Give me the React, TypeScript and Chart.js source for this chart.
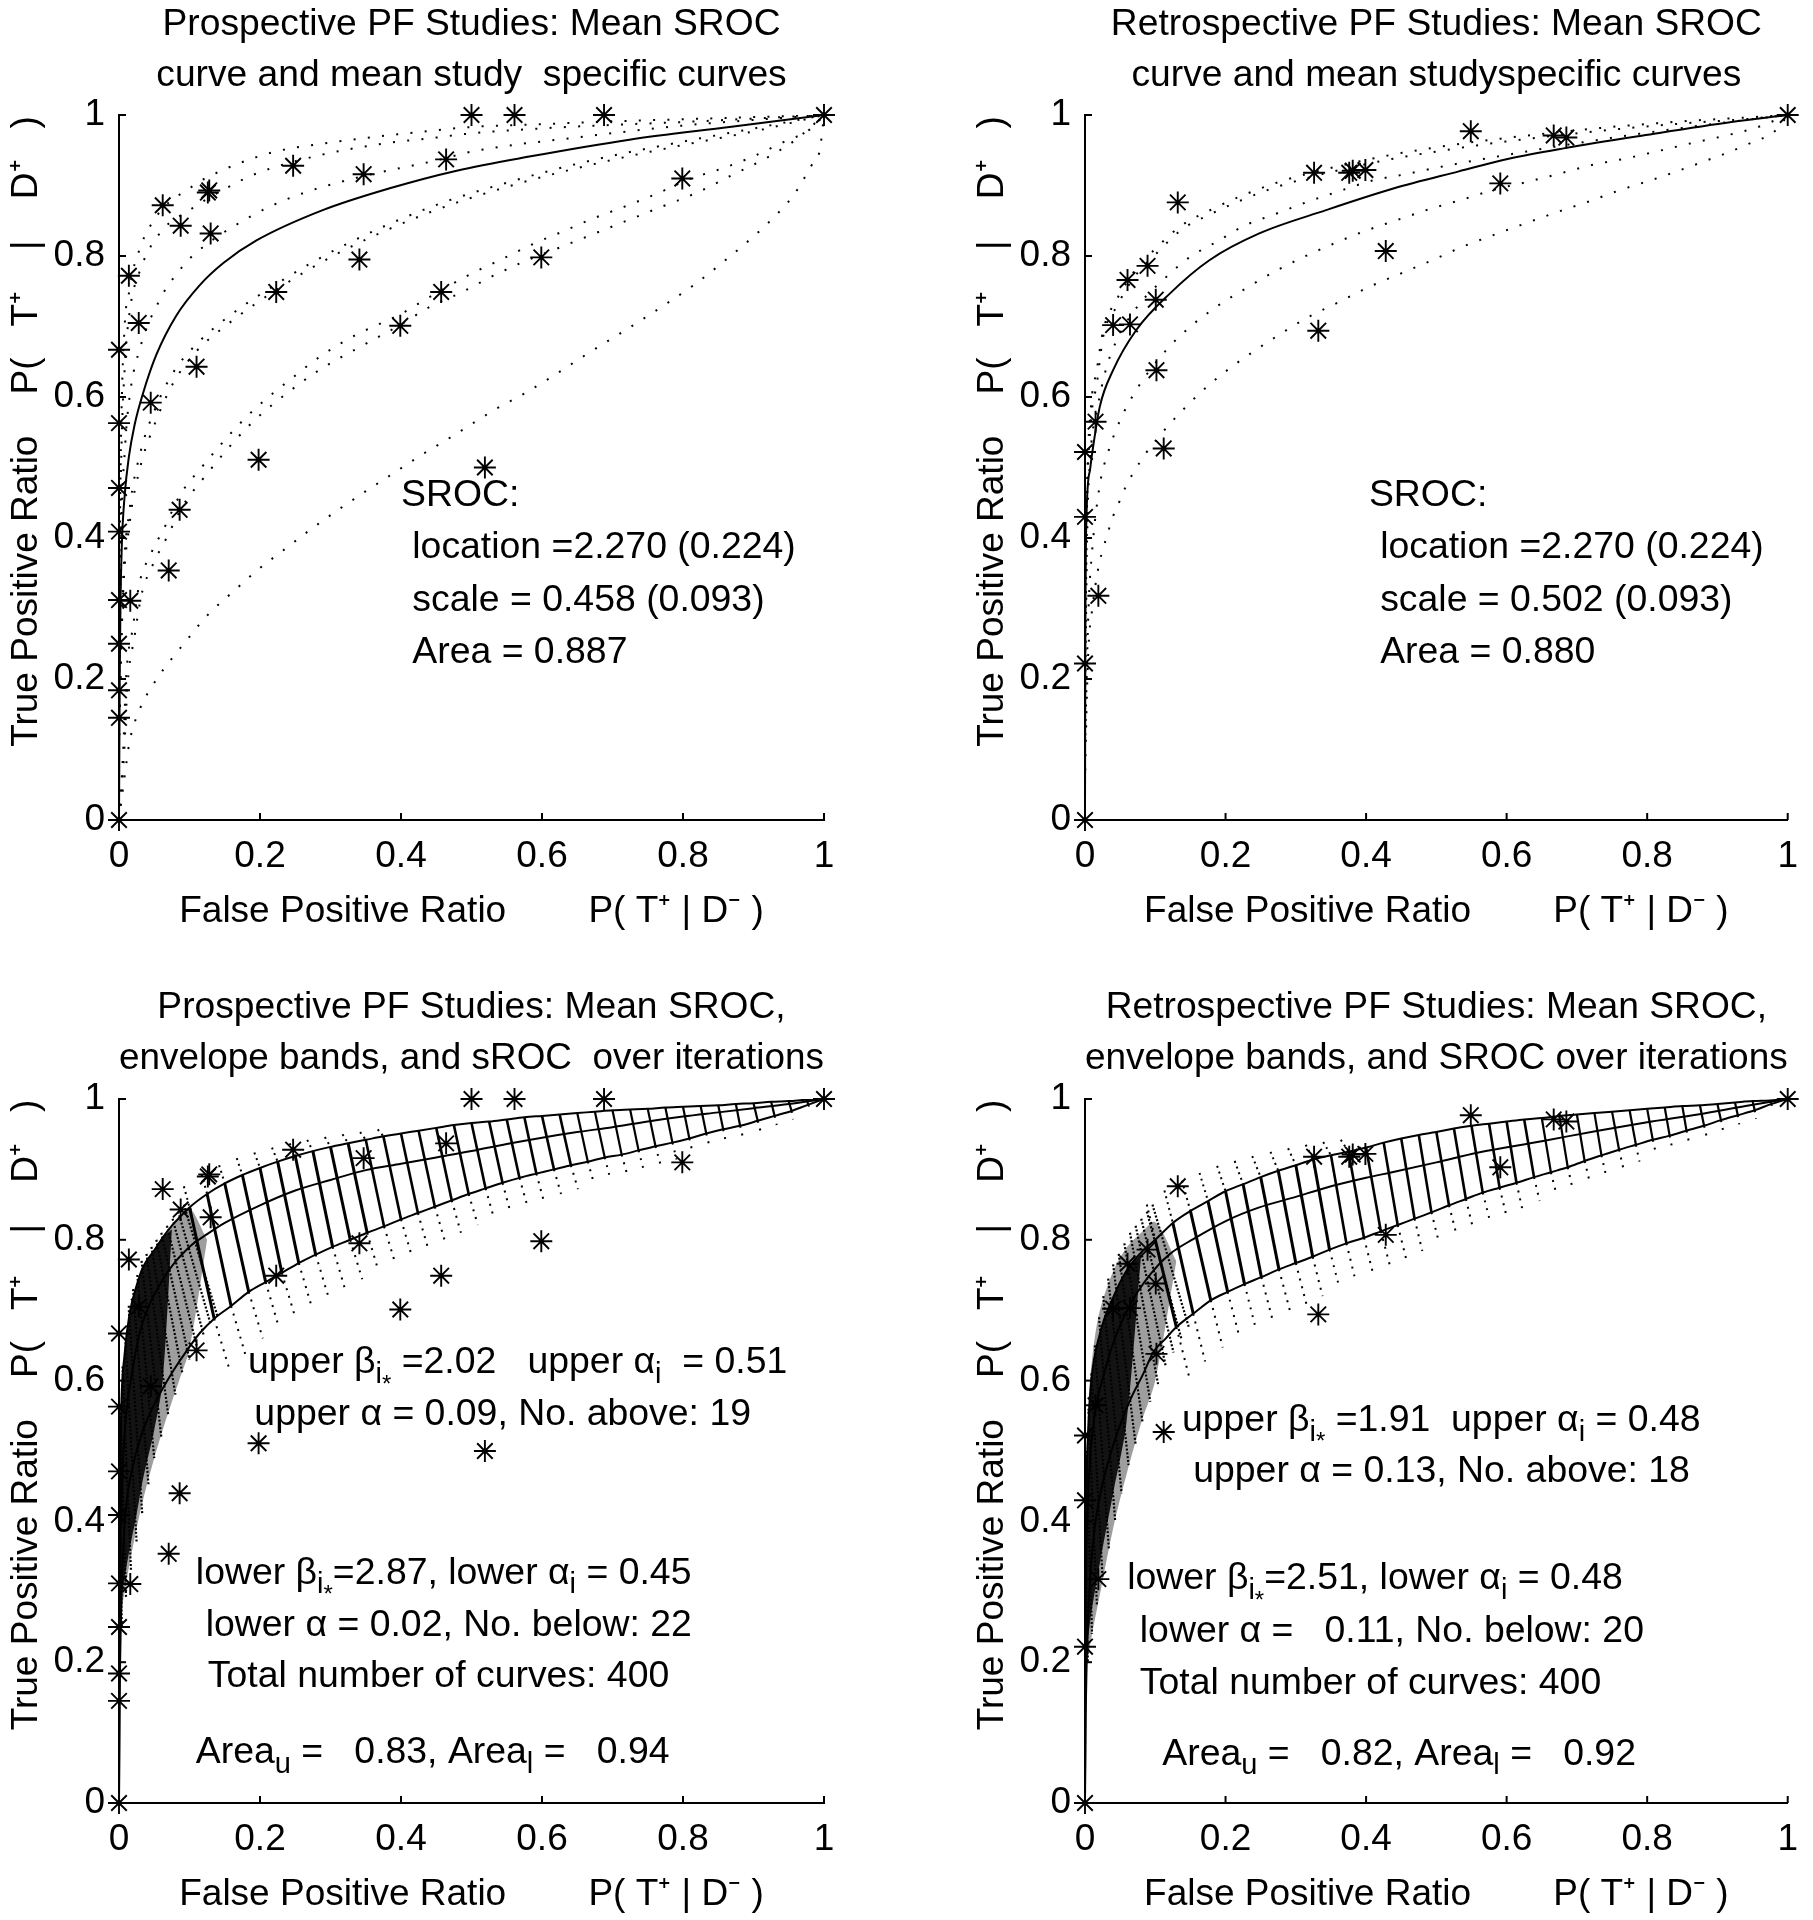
import React, { useEffect, useRef } from 'react';
import { Chart, registerables } from 'chart.js';

Chart.register(...registerables);

type Pt = [number, number];

const FONT = '"Liberation Sans", Arial, Helvetica, sans-serif';

// ---------------- data ----------------
const tickValues = [0, 0.2, 0.4, 0.6, 0.8, 1];

const prospectiveStudies: Pt[] = [
  [0, 0], [0, 0.145], [0, 0.184], [0, 0.25], [0, 0.312], [0.016, 0.311], [0, 0.409], [0, 0.471], [0, 0.563], [0, 0.667],
  [0.014, 0.772], [0.028, 0.705], [0.045, 0.592], [0.0705, 0.354], [0.086, 0.44], [0.11, 0.643], [0.198, 0.511],
  [0.062, 0.872], [0.0875, 0.843], [0.126, 0.89], [0.128, 0.893], [0.13, 0.832], [0.223, 0.749], [0.247, 0.928],
  [0.341, 0.795], [0.347, 0.916], [0.399, 0.701], [0.457, 0.749], [0.464, 0.937], [0.5, 1], [0.519, 0.5],
  [0.561, 1], [0.599, 0.798], [0.688, 1], [0.799, 0.91], [1, 1],
];

const retrospectiveStudies: Pt[] = [
  [0, 0], [0, 0.222], [0.019, 0.318], [0, 0.43], [0, 0.522], [0.015, 0.565], [0.04, 0.702], [0.064, 0.703],
  [0.0605, 0.766], [0.089, 0.786], [0.1007, 0.738], [0.1017, 0.638], [0.112, 0.527], [0.132, 0.876], [0.326, 0.918],
  [0.332, 0.694], [0.376, 0.918], [0.381, 0.921], [0.399, 0.922], [0.428, 0.807], [0.549, 0.977], [0.591, 0.903],
  [0.667, 0.971], [0.685, 0.968], [1, 1],
];

// Prospective: mean SROC and mean study-specific curves
const proMeanSroc: Pt[] = [
  [0, 0], [0.001, 0.2], [0.002, 0.3], [0.004, 0.39], [0.008, 0.46], [0.014, 0.515], [0.022, 0.56], [0.034, 0.605],
  [0.053, 0.66], [0.081, 0.715], [0.114, 0.758], [0.148, 0.79], [0.195, 0.822], [0.289, 0.865], [0.384, 0.896],
  [0.479, 0.921], [0.582, 0.941], [0.724, 0.965], [0.866, 0.983], [1, 1],
];
const proStudyU1: Pt[] = [
  [0, 0.3], [0.003, 0.55], [0.008, 0.7], [0.015, 0.752], [0.02, 0.78], [0.029, 0.809], [0.036, 0.827], [0.06, 0.865],
  [0.103, 0.898], [0.124, 0.911], [0.214, 0.946], [0.308, 0.962], [0.427, 0.976], [0.5, 0.983], [0.6, 0.987],
  [0.7, 0.991], [0.8, 0.994], [0.9, 0.997], [1, 1],
];
const proStudyU2: Pt[] = [
  [0, 0.25], [0.003, 0.5], [0.008, 0.64], [0.015, 0.72], [0.03, 0.78], [0.06, 0.835], [0.1, 0.865], [0.148, 0.894],
  [0.195, 0.917], [0.285, 0.943], [0.379, 0.96], [0.45, 0.968], [0.5, 0.974], [0.6, 0.981], [0.7, 0.986], [0.8, 0.99],
  [0.9, 0.995], [1, 1],
];
const proStudyU3: Pt[] = [
  [0, 0.15], [0.003, 0.4], [0.008, 0.52], [0.015, 0.6], [0.03, 0.67], [0.06, 0.742], [0.086, 0.78], [0.103, 0.799],
  [0.181, 0.853], [0.247, 0.884], [0.337, 0.911], [0.452, 0.936], [0.5, 0.948], [0.665, 0.97], [0.8, 0.985],
  [0.9, 0.993], [1, 1],
];
const proStudyM1: Pt[] = [
  [0, 0.1], [0.005, 0.3], [0.015, 0.42], [0.03, 0.5], [0.05, 0.56], [0.077, 0.62], [0.11, 0.665], [0.15, 0.7],
  [0.223, 0.752], [0.313, 0.805], [0.441, 0.862], [0.557, 0.9], [0.672, 0.93], [0.788, 0.955], [0.906, 0.978], [1, 1],
];
const proStudyM2: Pt[] = [
  [0, 0.12], [0.005, 0.32], [0.015, 0.44], [0.03, 0.52], [0.05, 0.58], [0.077, 0.635], [0.11, 0.675], [0.15, 0.71],
  [0.223, 0.76], [0.313, 0.812], [0.441, 0.869], [0.557, 0.906], [0.672, 0.936], [0.788, 0.96], [0.906, 0.982], [1, 1],
];
const proStudyL1a: Pt[] = [
  [0, 0], [0.006, 0.1], [0.01, 0.2], [0.02, 0.275], [0.029, 0.336], [0.044, 0.375], [0.067, 0.42], [0.086, 0.46],
  [0.117, 0.5], [0.181, 0.572], [0.252, 0.632], [0.289, 0.66], [0.332, 0.686], [0.4, 0.718], [0.441, 0.742],
  [0.5, 0.775], [0.542, 0.795], [0.585, 0.816], [0.63, 0.835], [0.672, 0.853], [0.717, 0.87], [0.762, 0.888],
  [0.809, 0.909], [0.855, 0.924], [0.897, 0.94], [0.939, 0.96], [0.982, 0.981], [1, 1],
];
const proStudyL1b: Pt[] = [
  [0, 0], [0.007, 0.09], [0.012, 0.19], [0.022, 0.26], [0.032, 0.32], [0.047, 0.36], [0.07, 0.405], [0.09, 0.445],
  [0.12, 0.485], [0.185, 0.56], [0.255, 0.618], [0.295, 0.645], [0.34, 0.67], [0.4, 0.703], [0.441, 0.728],
  [0.485, 0.748], [0.529, 0.771], [0.572, 0.791], [0.62, 0.81], [0.67, 0.83], [0.72, 0.85], [0.77, 0.87],
  [0.82, 0.89], [0.87, 0.915], [0.92, 0.94], [0.96, 0.965], [1, 1],
];
const proStudyL2: Pt[] = [
  [0, 0], [0.008, 0.062], [0.015, 0.111], [0.029, 0.156], [0.051, 0.196], [0.096, 0.255], [0.126, 0.291],
  [0.162, 0.324], [0.197, 0.355], [0.235, 0.384], [0.273, 0.413], [0.311, 0.44], [0.351, 0.467], [0.391, 0.493],
  [0.431, 0.519], [0.474, 0.545], [0.533, 0.582], [0.575, 0.605], [0.616, 0.63], [0.656, 0.656], [0.696, 0.681],
  [0.736, 0.706], [0.776, 0.732], [0.817, 0.76], [0.854, 0.789], [0.89, 0.819], [0.925, 0.851], [0.958, 0.888],
  [0.982, 0.928], [0.994, 0.95], [1, 1],
];

// Retrospective: mean SROC and mean study-specific curves
const retroMeanSroc: Pt[] = [
  [0, 0], [0.0005, 0.25], [0.002, 0.426], [0.007, 0.496], [0.0095, 0.515], [0.021, 0.586], [0.04, 0.638],
  [0.073, 0.695], [0.121, 0.747], [0.177, 0.794], [0.248, 0.832], [0.343, 0.865], [0.44, 0.896], [0.532, 0.92],
  [0.603, 0.938], [0.683, 0.953], [0.801, 0.972], [0.92, 0.99], [1, 1],
];
const retroStudyU1: Pt[] = [
  [0, 0.2], [0.003, 0.45], [0.008, 0.56], [0.017, 0.62], [0.026, 0.686], [0.045, 0.728], [0.07, 0.77], [0.102, 0.804],
  [0.137, 0.837], [0.18, 0.86], [0.222, 0.879], [0.267, 0.896], [0.314, 0.91], [0.428, 0.936], [0.499, 0.948],
  [0.596, 0.962], [0.738, 0.978], [0.85, 0.988], [0.95, 0.995], [1, 1],
];
const retroStudyU1b: Pt[] = [
  [0, 0.22], [0.003, 0.47], [0.008, 0.58], [0.017, 0.64], [0.026, 0.695], [0.045, 0.738], [0.07, 0.778],
  [0.102, 0.812], [0.137, 0.843], [0.18, 0.866], [0.222, 0.885], [0.267, 0.902], [0.314, 0.916], [0.428, 0.942],
  [0.499, 0.954], [0.596, 0.967], [0.738, 0.982], [0.85, 0.991], [0.95, 0.997], [1, 1],
];
const retroStudyU2: Pt[] = [
  [0, 0.15], [0.003, 0.4], [0.008, 0.52], [0.017, 0.58], [0.03, 0.64], [0.05, 0.69], [0.08, 0.735], [0.111, 0.766],
  [0.147, 0.797], [0.187, 0.82], [0.227, 0.843], [0.272, 0.86], [0.317, 0.877], [0.362, 0.892], [0.409, 0.907],
  [0.456, 0.916], [0.504, 0.926], [0.598, 0.943], [0.7, 0.96], [0.8, 0.975], [0.9, 0.988], [1, 1],
];
const retroStudyL1: Pt[] = [
  [0, 0.1], [0.005, 0.3], [0.01, 0.38], [0.021, 0.475], [0.033, 0.522], [0.05, 0.567], [0.073, 0.61], [0.116, 0.667],
  [0.149, 0.699], [0.187, 0.728], [0.227, 0.753], [0.27, 0.778], [0.312, 0.799], [0.355, 0.818], [0.4, 0.836],
  [0.447, 0.852], [0.492, 0.867], [0.537, 0.88], [0.582, 0.894], [0.629, 0.905], [0.676, 0.917], [0.721, 0.929],
  [0.768, 0.938], [0.816, 0.949], [0.863, 0.96], [0.908, 0.97], [0.955, 0.982], [1, 1],
];
const retroStudyL2: Pt[] = [
  [0, 0.05], [0.002, 0.15], [0.005, 0.246], [0.0095, 0.293], [0.02, 0.363], [0.026, 0.385], [0.033, 0.409],
  [0.04, 0.431], [0.05, 0.454], [0.059, 0.475], [0.071, 0.496], [0.085, 0.518], [0.113, 0.553], [0.13, 0.572],
  [0.163, 0.605], [0.201, 0.637], [0.239, 0.664], [0.279, 0.69], [0.319, 0.714], [0.362, 0.735], [0.404, 0.756],
  [0.449, 0.775], [0.494, 0.794], [0.537, 0.813], [0.582, 0.83], [0.626, 0.846], [0.671, 0.862], [0.716, 0.877],
  [0.76, 0.893], [0.807, 0.908], [0.875, 0.932], [0.942, 0.958], [0.986, 0.981], [1, 1],
];

// Prospective: envelope bands over iterations
const proUpperEnvLeft: Pt[] = [
  [0, 0], [0.0005, 0.3], [0.0015, 0.45], [0.003, 0.553], [0.008, 0.638], [0.015, 0.695], [0.025, 0.735],
  [0.034, 0.761], [0.05, 0.785], [0.062, 0.803], [0.075, 0.82], [0.087, 0.833],
];
const proLowerEnvLeft: Pt[] = [
  [0, 0], [0.001, 0.15], [0.003, 0.27], [0.006, 0.36], [0.01, 0.42], [0.02, 0.48], [0.034, 0.529], [0.053, 0.572],
  [0.077, 0.614], [0.1, 0.648], [0.115, 0.668],
];
const proMidIter: Pt[] = [
  [0, 0], [0.0005, 0.2], [0.002, 0.36], [0.005, 0.47], [0.01, 0.55], [0.02, 0.62], [0.03, 0.67], [0.06, 0.74],
  [0.1, 0.79], [0.125, 0.808], [0.15, 0.824], [0.2, 0.849], [0.25, 0.87], [0.3, 0.885], [0.35, 0.899], [0.4, 0.908],
  [0.45, 0.917], [0.5, 0.926], [0.55, 0.936], [0.6, 0.945], [0.65, 0.953], [0.7, 0.96], [0.75, 0.968], [0.8, 0.975],
  [0.85, 0.981], [0.9, 0.987], [0.95, 0.993], [1, 1],
];
const proBandUpper: Pt[] = [
  [0.1, 0.846], [0.125, 0.865], [0.15, 0.88], [0.175, 0.892], [0.2, 0.902], [0.225, 0.911], [0.25, 0.919],
  [0.275, 0.926], [0.3, 0.932], [0.325, 0.937], [0.35, 0.942], [0.375, 0.947], [0.4, 0.951], [0.425, 0.955],
  [0.45, 0.959], [0.475, 0.963], [0.5, 0.966], [0.525, 0.968], [0.55, 0.971], [0.575, 0.974], [0.6, 0.976],
  [0.625, 0.978], [0.65, 0.98], [0.675, 0.982], [0.7, 0.984], [0.725, 0.985], [0.75, 0.986], [0.775, 0.988],
  [0.8, 0.989], [0.825, 0.99], [0.85, 0.991], [0.875, 0.993], [0.9, 0.994], [0.925, 0.996], [0.95, 0.997], [0.975, 0.999],
];
const proBandLower: Pt[] = [
  [0.135, 0.688], [0.159, 0.706], [0.184, 0.726], [0.208, 0.74], [0.231, 0.753], [0.255, 0.767], [0.279, 0.779],
  [0.303, 0.79], [0.328, 0.8], [0.352, 0.81], [0.376, 0.819], [0.4, 0.829], [0.424, 0.838], [0.448, 0.847],
  [0.472, 0.856], [0.496, 0.865], [0.52, 0.873], [0.544, 0.881], [0.568, 0.888], [0.592, 0.894], [0.617, 0.9],
  [0.641, 0.906], [0.665, 0.911], [0.689, 0.917], [0.713, 0.921], [0.737, 0.927], [0.761, 0.933], [0.785, 0.938],
  [0.809, 0.944], [0.833, 0.951], [0.857, 0.957], [0.881, 0.962], [0.906, 0.969], [0.93, 0.976], [0.954, 0.983], [0.978, 0.992],
];
const proBandOuterLow: Pt[] = [
  [0.156, 0.618], [0.179, 0.638], [0.204, 0.66], [0.227, 0.675], [0.25, 0.69], [0.273, 0.706], [0.297, 0.719],
  [0.32, 0.732], [0.345, 0.744], [0.368, 0.756], [0.392, 0.766], [0.415, 0.778], [0.438, 0.789], [0.462, 0.799],
  [0.485, 0.81], [0.509, 0.821], [0.532, 0.83], [0.555, 0.84], [0.579, 0.849], [0.602, 0.857], [0.627, 0.865],
  [0.651, 0.872], [0.674, 0.879], [0.697, 0.886], [0.721, 0.892], [0.744, 0.9], [0.768, 0.907], [0.791, 0.914],
  [0.814, 0.922], [0.838, 0.931], [0.861, 0.938], [0.885, 0.945], [0.91, 0.954], [0.933, 0.963], [0.956, 0.971], [0.98, 0.982],
];
const proBandOuterHigh: Pt[] = [
  [0.092, 0.876], [0.117, 0.893], [0.142, 0.906], [0.167, 0.916], [0.192, 0.924], [0.217, 0.931], [0.242, 0.937],
  [0.267, 0.942], [0.292, 0.946], [0.317, 0.95], [0.342, 0.953], [0.367, 0.957],
];
const proStreakTop: Pt[] = [
  [0, 0.48], [0.002, 0.56], [0.005, 0.62], [0.009, 0.66], [0.014, 0.7], [0.02, 0.73], [0.026, 0.75], [0.032, 0.77],
  [0.039, 0.78], [0.046, 0.79], [0.053, 0.8], [0.06, 0.81], [0.068, 0.82], [0.076, 0.83], [0.084, 0.84], [0.092, 0.85],
];
const proStreakBottom: Pt[] = [
  [0.004, 0.25], [0.01, 0.29], [0.017, 0.33], [0.025, 0.37], [0.033, 0.41], [0.042, 0.45], [0.05, 0.49], [0.06, 0.52],
  [0.07, 0.55], [0.08, 0.58], [0.09, 0.61], [0.1, 0.63], [0.11, 0.65], [0.12, 0.665], [0.13, 0.68], [0.14, 0.69],
];
// dense point cloud near the origin (core, then lighter halo)
const proCoreTop: Pt[] = [
  [0, 0.45], [0.003, 0.553], [0.008, 0.638], [0.015, 0.695], [0.025, 0.735], [0.034, 0.761], [0.05, 0.785],
  [0.062, 0.803], [0.075, 0.815],
];
const proCoreBottom: Pt[] = [
  [0, 0.28], [0.003, 0.29], [0.008, 0.32], [0.015, 0.36], [0.025, 0.41], [0.034, 0.46], [0.05, 0.53],
  [0.062, 0.6], [0.075, 0.815],
];
const proHaloTop: Pt[] = [
  [0, 0.45], [0.003, 0.553], [0.008, 0.638], [0.015, 0.695], [0.025, 0.735], [0.034, 0.761], [0.05, 0.785],
  [0.062, 0.803], [0.075, 0.82], [0.087, 0.833], [0.1, 0.846], [0.125, 0.8],
];
const proHaloBottom: Pt[] = [
  [0, 0.25], [0.003, 0.27], [0.008, 0.3], [0.015, 0.34], [0.025, 0.39], [0.034, 0.43], [0.05, 0.49], [0.062, 0.53],
  [0.075, 0.57], [0.087, 0.605], [0.1, 0.645], [0.125, 0.8],
];

// Retrospective: envelope bands over iterations
const retroUpperEnvLeft: Pt[] = [
  [0, 0], [0.0005, 0.3], [0.002, 0.45], [0.005, 0.54], [0.009, 0.6], [0.021, 0.666], [0.04, 0.718], [0.059, 0.756],
  [0.08, 0.782],
];
const retroLowerEnvLeft: Pt[] = [
  [0, 0], [0.001, 0.12], [0.004, 0.25], [0.008, 0.33], [0.015, 0.4], [0.026, 0.458], [0.035, 0.491], [0.047, 0.529],
  [0.064, 0.572], [0.083, 0.61], [0.097, 0.64], [0.115, 0.66],
];
const retroMidIter: Pt[] = [
  [0, 0], [0.0005, 0.2], [0.002, 0.35], [0.005, 0.45], [0.01, 0.52], [0.03, 0.62], [0.06, 0.7], [0.097, 0.756],
  [0.121, 0.78], [0.154, 0.801], [0.201, 0.827], [0.248, 0.846], [0.3, 0.861], [0.343, 0.874], [0.4, 0.888],
  [0.437, 0.896], [0.5, 0.91], [0.56, 0.924], [0.65, 0.94], [0.73, 0.955], [0.8, 0.967], [0.872, 0.978], [0.94, 0.99], [1, 1],
];
const retroBandUpper: Pt[] = [
  [0.1, 0.8], [0.125, 0.824], [0.15, 0.841], [0.175, 0.855], [0.2, 0.869], [0.225, 0.879], [0.25, 0.889],
  [0.275, 0.898], [0.3, 0.906], [0.325, 0.914], [0.35, 0.92], [0.375, 0.925], [0.4, 0.931], [0.425, 0.938],
  [0.45, 0.944], [0.475, 0.949], [0.5, 0.953], [0.525, 0.958], [0.55, 0.962], [0.575, 0.965], [0.6, 0.968],
  [0.625, 0.971], [0.65, 0.973], [0.675, 0.976], [0.7, 0.978], [0.725, 0.98], [0.75, 0.982], [0.775, 0.984],
  [0.8, 0.986], [0.825, 0.988], [0.85, 0.99], [0.875, 0.991], [0.9, 0.993], [0.925, 0.995], [0.95, 0.997], [0.975, 0.998],
];
const retroBandLower: Pt[] = [
  [0.13, 0.676], [0.154, 0.695], [0.179, 0.714], [0.203, 0.726], [0.227, 0.737], [0.251, 0.747], [0.276, 0.758],
  [0.3, 0.767], [0.324, 0.776], [0.348, 0.786], [0.372, 0.795], [0.397, 0.803], [0.421, 0.812], [0.445, 0.821],
  [0.469, 0.83], [0.493, 0.839], [0.518, 0.849], [0.542, 0.858], [0.566, 0.867], [0.59, 0.874], [0.614, 0.881],
  [0.639, 0.889], [0.663, 0.896], [0.687, 0.903], [0.711, 0.912], [0.735, 0.92], [0.76, 0.928], [0.784, 0.935],
  [0.808, 0.942], [0.832, 0.948], [0.856, 0.955], [0.881, 0.962], [0.905, 0.97], [0.929, 0.977], [0.953, 0.984], [0.977, 0.993],
];
const retroBandOuterLow: Pt[] = [
  [0.148, 0.606], [0.171, 0.627], [0.196, 0.647], [0.22, 0.661], [0.243, 0.674], [0.267, 0.686], [0.292, 0.698],
  [0.315, 0.709], [0.338, 0.72], [0.362, 0.732], [0.385, 0.742], [0.41, 0.752], [0.434, 0.763], [0.457, 0.773],
  [0.48, 0.784], [0.504, 0.795], [0.529, 0.806], [0.552, 0.817], [0.576, 0.828], [0.599, 0.837], [0.622, 0.845],
  [0.647, 0.855], [0.671, 0.864], [0.694, 0.872], [0.718, 0.883], [0.741, 0.893], [0.766, 0.902], [0.789, 0.911],
  [0.813, 0.92], [0.836, 0.928], [0.86, 0.936], [0.885, 0.945], [0.908, 0.955], [0.931, 0.964], [0.955, 0.972], [0.978, 0.983],
];
const retroBandOuterHigh: Pt[] = [
  [0.088, 0.85], [0.113, 0.87], [0.138, 0.884], [0.163, 0.895], [0.188, 0.905], [0.213, 0.912], [0.238, 0.919],
  [0.264, 0.925], [0.289, 0.93], [0.314, 0.935], [0.339, 0.939], [0.364, 0.942],
];
const retroStreakTop: Pt[] = [
  [0, 0.42], [0.002, 0.5], [0.005, 0.56], [0.009, 0.61], [0.014, 0.65], [0.02, 0.69], [0.026, 0.72], [0.033, 0.745],
  [0.04, 0.765], [0.048, 0.78], [0.056, 0.795], [0.064, 0.81], [0.072, 0.82], [0.08, 0.83], [0.088, 0.84], [0.096, 0.85],
];
const retroStreakBottom: Pt[] = [
  [0.004, 0.2], [0.01, 0.24], [0.017, 0.28], [0.025, 0.32], [0.034, 0.36], [0.043, 0.4], [0.052, 0.44], [0.062, 0.48],
  [0.072, 0.51], [0.082, 0.54], [0.093, 0.57], [0.104, 0.595], [0.115, 0.62], [0.126, 0.64], [0.137, 0.66], [0.148, 0.675],
];
const retroCoreTop: Pt[] = [
  [0, 0.4], [0.002, 0.45], [0.005, 0.54], [0.009, 0.6], [0.021, 0.666], [0.04, 0.718], [0.059, 0.756], [0.08, 0.78],
];
const retroCoreBottom: Pt[] = [
  [0, 0.2], [0.002, 0.22], [0.005, 0.24], [0.009, 0.27], [0.021, 0.34], [0.04, 0.44], [0.059, 0.54], [0.08, 0.78],
];
const retroHaloTop: Pt[] = [
  [0, 0.42], [0.005, 0.57], [0.01, 0.63], [0.02, 0.695], [0.04, 0.755], [0.06, 0.79], [0.08, 0.81], [0.1, 0.825],
  [0.13, 0.77],
];
const retroHaloBottom: Pt[] = [
  [0, 0.18], [0.005, 0.21], [0.01, 0.24], [0.02, 0.29], [0.04, 0.39], [0.06, 0.47], [0.08, 0.54], [0.1, 0.6],
  [0.13, 0.77],
];

// ---------------- text ----------------
type Part = [string, number];
type Note = { x: number; y: number; parts: Part[] };

const notesProTop: Note[] = [
  { x: 0.40, y: 0.46, parts: [['SROC:', 0]] },
  { x: 0.416, y: 0.386, parts: [['location =2.270 (0.224)', 0]] },
  { x: 0.416, y: 0.311, parts: [['scale = 0.458 (0.093)', 0]] },
  { x: 0.416, y: 0.238, parts: [['Area = 0.887', 0]] },
];
const notesRetroTop: Note[] = [
  { x: 0.404, y: 0.46, parts: [['SROC:', 0]] },
  { x: 0.42, y: 0.386, parts: [['location =2.270 (0.224)', 0]] },
  { x: 0.42, y: 0.311, parts: [['scale = 0.502 (0.093)', 0]] },
  { x: 0.42, y: 0.238, parts: [['Area = 0.880', 0]] },
];
const notesProBottom: Note[] = [
  { x: 0.183, y: 0.625, parts: [['upper \u03b2', 0], ['i', 1], ['*', 2], [' =2.02   upper \u03b1', 0], ['i', 1], ['  = 0.51', 0]] },
  { x: 0.192, y: 0.552, parts: [['upper \u03b1 = 0.09, No. above: 19', 0]] },
  { x: 0.109, y: 0.326, parts: [['lower \u03b2', 0], ['i', 1], ['*', 2], ['=2.87, lower \u03b1', 0], ['i', 1], [' = 0.45', 0]] },
  { x: 0.123, y: 0.252, parts: [['lower \u03b1 = 0.02, No. below: 22', 0]] },
  { x: 0.126, y: 0.179, parts: [['Total number of curves: 400', 0]] },
  { x: 0.109, y: 0.071, parts: [['Area', 0], ['u', 1], [' =   0.83, Area', 0], ['l', 1], [' =   0.94', 0]] },
];
const notesRetroBottom: Note[] = [
  { x: 0.138, y: 0.543, parts: [['upper \u03b2', 0], ['i', 1], ['*', 2], [' =1.91  upper \u03b1', 0], ['i', 1], [' = 0.48', 0]] },
  { x: 0.154, y: 0.47, parts: [['upper \u03b1 = 0.13, No. above: 18', 0]] },
  { x: 0.06, y: 0.318, parts: [['lower \u03b2', 0], ['i', 1], ['*', 2], ['=2.51, lower \u03b1', 0], ['i', 1], [' = 0.48', 0]] },
  { x: 0.078, y: 0.243, parts: [['lower \u03b1 =   0.11, No. below: 20', 0]] },
  { x: 0.078, y: 0.17, parts: [['Total number of curves: 400', 0]] },
  { x: 0.11, y: 0.069, parts: [['Area', 0], ['u', 1], [' =   0.82, Area', 0], ['l', 1], [' =   0.92', 0]] },
];

const X_TITLE = 'False Positive Ratio        P( T\u207a | D\u207b )';
const Y_TITLE = '       True Positive Ratio    P(   T\u207a    |    D\u207a   )';

// ---------------- helpers ----------------
const toXY = (pts: Pt[]) => pts.map(([x, y]) => ({ x, y }));

function solidCurve(pts: Pt[], width = 2) {
  return {
    data: toXY(pts), showLine: true, pointRadius: 0, borderColor: '#000', borderWidth: width,
    cubicInterpolationMode: 'monotone', fill: false,
  };
}
function dottedCurve(pts: Pt[], dash = [2, 12.3], width = 2) {
  return {
    data: toXY(pts), showLine: true, pointRadius: 0, borderColor: '#000', borderWidth: width,
    borderDash: dash, borderCapStyle: 'butt', cubicInterpolationMode: 'monotone', fill: false,
  };
}
function segment(a: Pt, b: Pt, width: number, dash: number[] = []) {
  return {
    data: toXY([a, b]), showLine: true, pointRadius: 0, borderColor: '#000', borderWidth: width,
    borderDash: dash, borderCapStyle: 'butt', tension: 0, fill: false,
  };
}
function starMarks(pts: Pt[]) {
  return {
    data: toXY(pts), showLine: false, pointStyle: 'star', pointRadius: 11, pointBorderWidth: 1.9,
    pointBorderColor: '#000', pointBackgroundColor: '#000', borderColor: '#000', borderWidth: 1.9, clip: false,
  };
}
function cloudPair(top: Pt[], bottom: Pt[], alpha: number) {
  return [
    {
      data: toXY(top), showLine: true, pointRadius: 0, borderWidth: 0, borderColor: 'rgba(0,0,0,0)',
      backgroundColor: `rgba(0,0,0,${alpha})`, fill: '+1', tension: 0.3,
    },
    {
      data: toXY(bottom), showLine: true, pointRadius: 0, borderWidth: 0, borderColor: 'rgba(0,0,0,0)',
      fill: false, tension: 0.3,
    },
  ];
}

function bandDatasets(
  upperLeft: Pt[], lowerLeft: Pt[], mid: Pt[], upper: Pt[], lower: Pt[], outerLow: Pt[], outerHigh: Pt[],
  streakTop: Pt[], streakBottom: Pt[], haloTop: Pt[], haloBottom: Pt[], coreTop: Pt[], coreBottom: Pt[],
) {
  const ds: any[] = [];
  ds.push(...cloudPair(haloTop, haloBottom, 0.38));
  ds.push(...cloudPair(coreTop, coreBottom, 0.88));
  streakTop.forEach((p, i) => ds.push(segment(p, streakBottom[i], 2.2, [2, 1.8])));
  upper.forEach((p, i) => ds.push(segment(lower[i], outerLow[i], 2, [2, 6])));
  outerHigh.forEach((p, i) => ds.push(segment(p, upper[i], 2, [2, 4])));
  upper.forEach((p, i) => ds.push(segment(p, lower[i], i < 10 ? 3 : i < 22 ? 2.6 : 2.2)));
  ds.push(solidCurve([...upperLeft, ...upper, [1, 1]]));
  ds.push(solidCurve([...lowerLeft, ...lower, [1, 1]]));
  ds.push(solidCurve(mid));
  return ds;
}

function drawNote(ctx: CanvasRenderingContext2D, x: number, y: number, parts: Part[]) {
  let cx = x;
  for (const [t, lvl] of parts) {
    const size = lvl === 0 ? 37.4 : lvl === 1 ? 29 : 24;
    const dy = lvl === 0 ? 0 : lvl === 1 ? 12 : 22;
    ctx.font = `${size}px ${FONT}`;
    ctx.textBaseline = 'middle';
    ctx.textAlign = 'left';
    ctx.fillText(t, cx, y + dy);
    cx += ctx.measureText(t).width;
  }
}

function makeDecor(notes: Note[]) {
  return {
    id: 'decor',
    afterDraw(chart: any) {
      const { ctx, chartArea } = chart;
      const xs = chart.scales.x;
      const ys = chart.scales.y;
      ctx.save();
      ctx.strokeStyle = '#000';
      ctx.lineWidth = 2;
      for (const v of tickValues) {
        const px = xs.getPixelForValue(v);
        ctx.beginPath();
        ctx.moveTo(px, chartArea.bottom);
        ctx.lineTo(px, chartArea.bottom - 7);
        ctx.stroke();
        const py = ys.getPixelForValue(v);
        ctx.beginPath();
        ctx.moveTo(chartArea.left, py);
        ctx.lineTo(chartArea.left + 7, py);
        ctx.stroke();
      }
      ctx.fillStyle = '#000';
      for (const n of notes) drawNote(ctx, xs.getPixelForValue(n.x), ys.getPixelForValue(n.y), n.parts);
      ctx.restore();
    },
  };
}

type PanelCfg = {
  left: number; top: number; w: number; h: number; padL: number; padR: number;
  titlePad: { top: number; bottom: number }; xAxisH: number; xTitlePadB: number;
  title: string[]; datasets: () => any[]; notes: Note[];
};

const panels: PanelCfg[] = [
  {
    left: 0, top: -1, w: 906, h: 961, padL: 0, padR: 82, titlePad: { top: 0, bottom: 14 }, xAxisH: 140, xTitlePadB: 26,
    title: ['Prospective PF Studies: Mean SROC', 'curve and mean study  specific curves'],
    notes: notesProTop,
    datasets: () => [
      dottedCurve(proStudyU1), dottedCurve(proStudyU2), dottedCurve(proStudyU3), dottedCurve(proStudyM1),
      dottedCurve(proStudyM2), dottedCurve(proStudyL1a), dottedCurve(proStudyL1b), dottedCurve(proStudyL2),
      solidCurve(proMeanSroc), starMarks(prospectiveStudies),
    ],
  },
  {
    left: 906, top: -1, w: 907, h: 961, padL: 60, padR: 23, titlePad: { top: 0, bottom: 14 }, xAxisH: 140, xTitlePadB: 26,
    title: ['Retrospective PF Studies: Mean SROC', 'curve and mean studyspecific curves'],
    notes: notesRetroTop,
    datasets: () => [
      dottedCurve(retroStudyU1), dottedCurve(retroStudyU1b), dottedCurve(retroStudyU2), dottedCurve(retroStudyL1),
      dottedCurve(retroStudyL2), solidCurve(retroMeanSroc), starMarks(retrospectiveStudies),
    ],
  },
  {
    left: 0, top: 960, w: 906, h: 960, padL: 0, padR: 82, titlePad: { top: 22, bottom: 15 }, xAxisH: 117, xTitlePadB: 3,
    title: ['Prospective PF Studies: Mean SROC,', 'envelope bands, and sROC  over iterations'],
    notes: notesProBottom,
    datasets: () => [
      ...bandDatasets(proUpperEnvLeft, proLowerEnvLeft, proMidIter, proBandUpper, proBandLower, proBandOuterLow,
        proBandOuterHigh, proStreakTop, proStreakBottom, proHaloTop, proHaloBottom, proCoreTop, proCoreBottom),
      starMarks(prospectiveStudies),
    ],
  },
  {
    left: 906, top: 960, w: 907, h: 960, padL: 60, padR: 23, titlePad: { top: 22, bottom: 15 }, xAxisH: 117, xTitlePadB: 3,
    title: ['Retrospective PF Studies: Mean SROC,', 'envelope bands, and SROC over iterations'],
    notes: notesRetroBottom,
    datasets: () => [
      ...bandDatasets(retroUpperEnvLeft, retroLowerEnvLeft, retroMidIter, retroBandUpper, retroBandLower,
        retroBandOuterLow, retroBandOuterHigh, retroStreakTop, retroStreakBottom, retroHaloTop, retroHaloBottom,
        retroCoreTop, retroCoreBottom),
      starMarks(retrospectiveStudies),
    ],
  },
];

const tickLabel = (v: any) => String(Math.round(Number(v) * 10) / 10);

function buildConfig(p: PanelCfg): any {
  return {
    type: 'scatter',
    data: { datasets: p.datasets() },
    plugins: [makeDecor(p.notes)],
    options: {
      responsive: false,
      animation: false,
      events: [],
      layout: { padding: { left: p.padL, right: p.padR, top: 0, bottom: 0 } },
      plugins: {
        legend: { display: false },
        tooltip: { enabled: false },
        title: {
          display: true, text: p.title, color: '#000', fullSize: false,
          font: { family: FONT, size: 37.2, weight: 'normal', lineHeight: 51 / 37.2 },
          padding: p.titlePad,
        },
      },
      scales: {
        x: {
          type: 'linear', position: 'bottom', min: 0, max: 1,
          ticks: {
            stepSize: 0.2, color: '#000', padding: 15, maxRotation: 0, autoSkip: false,
            font: { family: FONT, size: 37 }, callback: tickLabel,
          },
          grid: { display: false, drawTicks: false },
          border: { display: true, color: '#000', width: 2 },
          title: {
            display: true, text: X_TITLE, color: '#000',
            font: { family: FONT, size: 37, lineHeight: 1.2 }, padding: { top: 0, bottom: p.xTitlePadB },
          },
          afterFit: (s: any) => { s.height = p.xAxisH; },
        },
        y: {
          type: 'linear', position: 'left', min: 0, max: 1,
          ticks: {
            stepSize: 0.2, color: '#000', padding: 14, autoSkip: false,
            font: { family: FONT, size: 37 }, callback: tickLabel,
          },
          grid: { display: false, drawTicks: false },
          border: { display: true, color: '#000', width: 2 },
          title: {
            display: true, text: Y_TITLE, color: '#000',
            font: { family: FONT, size: 37, lineHeight: 1.2 }, padding: { top: 5, bottom: 0 },
          },
          afterFit: (s: any) => { s.width = 119; },
        },
      },
    },
  };
}

function Panel({ cfg }: { cfg: PanelCfg }) {
  const ref = useRef<HTMLCanvasElement>(null);
  useEffect(() => {
    if (!ref.current) return;
    const chart = new Chart(ref.current, buildConfig(cfg));
    return () => chart.destroy();
  }, [cfg]);
  return (
    <canvas
      ref={ref}
      width={cfg.w}
      height={cfg.h}
      style={{ position: 'absolute', left: cfg.left, top: cfg.top, width: cfg.w, height: cfg.h }}
    />
  );
}

export default function App() {
  useEffect(() => {
    document.body.style.margin = '0';
    document.body.style.background = '#fff';
  }, []);
  return (
    <div style={{ position: 'relative', width: 1813, height: 1920, overflow: 'hidden', background: '#fff' }}>
      {panels.map((p, i) => (
        <Panel key={i} cfg={p} />
      ))}
    </div>
  );
}
